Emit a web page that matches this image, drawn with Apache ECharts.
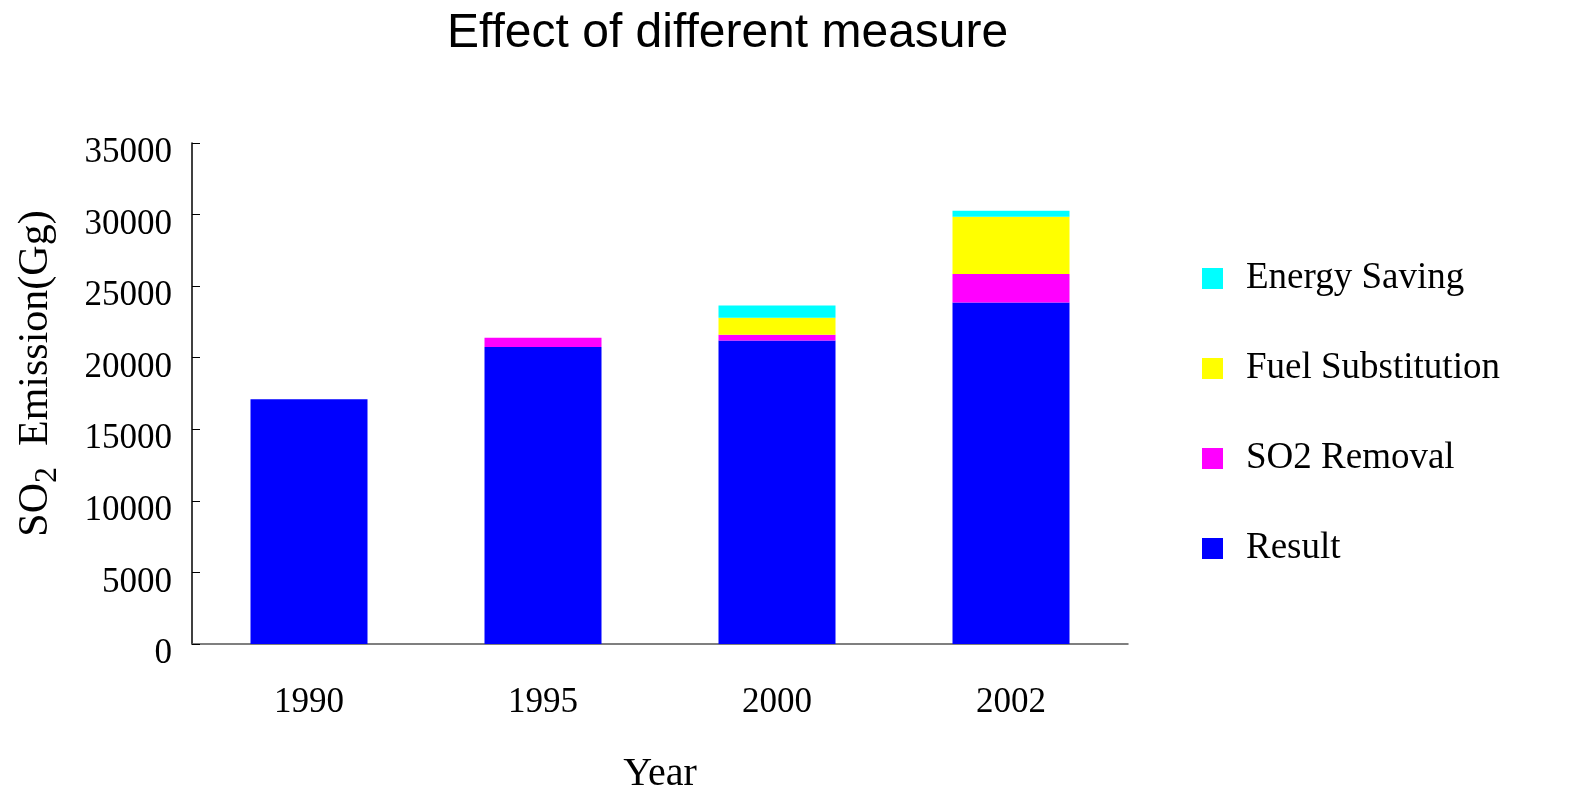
<!DOCTYPE html>
<html>
<head>
<meta charset="utf-8">
<script src="https://cdn.jsdelivr.net/npm/echarts@6/dist/echarts.min.js"></script>
<style>
  html, body { margin: 0; padding: 0; background: #fff; }
</style>
</head>
<body>
<div id="main" style="width: 1575px;height: 791px"></div>

<script type="text/javascript">
    // data
    var years = ['1990', '1995', '2000', '2002'];
    var result = [17100, 20750, 21200, 23850];
    var removal = [0, 640, 400, 2000];
    var fuelSub = [0, 0, 1200, 4000];
    var saving = [0, 0, 850, 420];
    var yTicks = [0, 5000, 10000, 15000, 20000, 25000, 30000, 35000];

    var serif = '"Liberation Serif", "DejaVu Serif", serif';

    var myChart = echarts.init(document.getElementById('main'));

    var option = {
        animation: false,
        title: {
            text: 'Effect of different measure',
            left: 442,
            top: 5,
            textStyle: {
                fontFamily: '"Liberation Sans", Arial, sans-serif',
                fontSize: 48,
                fontWeight: 'normal',
                color: '#000'
            }
        },
        legend: {
            orient: 'vertical',
            left: 1197,
            top: 255,
            itemWidth: 21,
            itemHeight: 21,
            itemGap: 53,
            itemTextGap: 22,
            icon: 'rect',
            data: ['Energy Saving', 'Fuel Substitution', 'SO2 Removal', 'Result'],
            textStyle: {
                fontFamily: serif,
                fontSize: 37,
                lineHeight: 36,
                padding: [0, 0, 0, 18],
                color: '#000'
            }
        },
        grid: {
            left: 192,
            right: 447,
            top: 143,
            bottom: 147,
            outerBoundsMode: 'none'
        },
        xAxis: {
            type: 'category',
            data: years,
            name: 'Year',
            nameLocation: 'middle',
            nameGap: 110,
            nameTextStyle: {
                fontFamily: serif,
                fontSize: 40,
                color: '#000'
            },
            axisLine: { lineStyle: { color: '#555', width: 1.5 } },
            axisTick: { inside: true, length: 8, lineStyle: { color: '#333' } },
            axisLabel: {
                margin: 41,
                fontFamily: serif,
                fontSize: 35,
                color: '#000'
            }
        },
        yAxis: {
            type: 'value',
            min: yTicks[0],
            max: yTicks[yTicks.length - 1],
            interval: yTicks[1] - yTicks[0],
            name: '{a|SO}{sub|2}{a|  Emission(Gg)}',
            nameLocation: 'middle',
            nameRotate: 90,
            nameGap: 128,
            nameTextStyle: {
                padding: [0, 0, 0, 40],
                rich: {
                    a: { fontFamily: serif, fontSize: 42, color: '#000', lineHeight: 44 },
                    sub: { fontFamily: serif, fontSize: 32, color: '#000', padding: [24, 0, 0, 0], verticalAlign: 'bottom' }
                }
            },
            splitLine: { show: false },
            axisLine: { show: true, lineStyle: { color: '#000', width: 1.5 } },
            axisTick: { show: true, inside: true, length: 8, lineStyle: { color: '#000' } },
            axisLabel: {
                margin: 20,
                verticalAlign: 'top',
                lineHeight: 20,
                fontFamily: serif,
                fontSize: 35,
                color: '#000',
                formatter: function (v) { return String(v); }
            }
        },
        series: [
            { name: 'Result', type: 'bar', stack: 'total', barWidth: '50%', data: result, itemStyle: { color: '#0000FF' } },
            { name: 'SO2 Removal', type: 'bar', stack: 'total', data: removal, itemStyle: { color: '#FF00FF' } },
            { name: 'Fuel Substitution', type: 'bar', stack: 'total', data: fuelSub, itemStyle: { color: '#FFFF00' } },
            { name: 'Energy Saving', type: 'bar', stack: 'total', data: saving, itemStyle: { color: '#00FFFF' } }
        ]
    };

    myChart.setOption(option);
</script>
</body>
</html>
